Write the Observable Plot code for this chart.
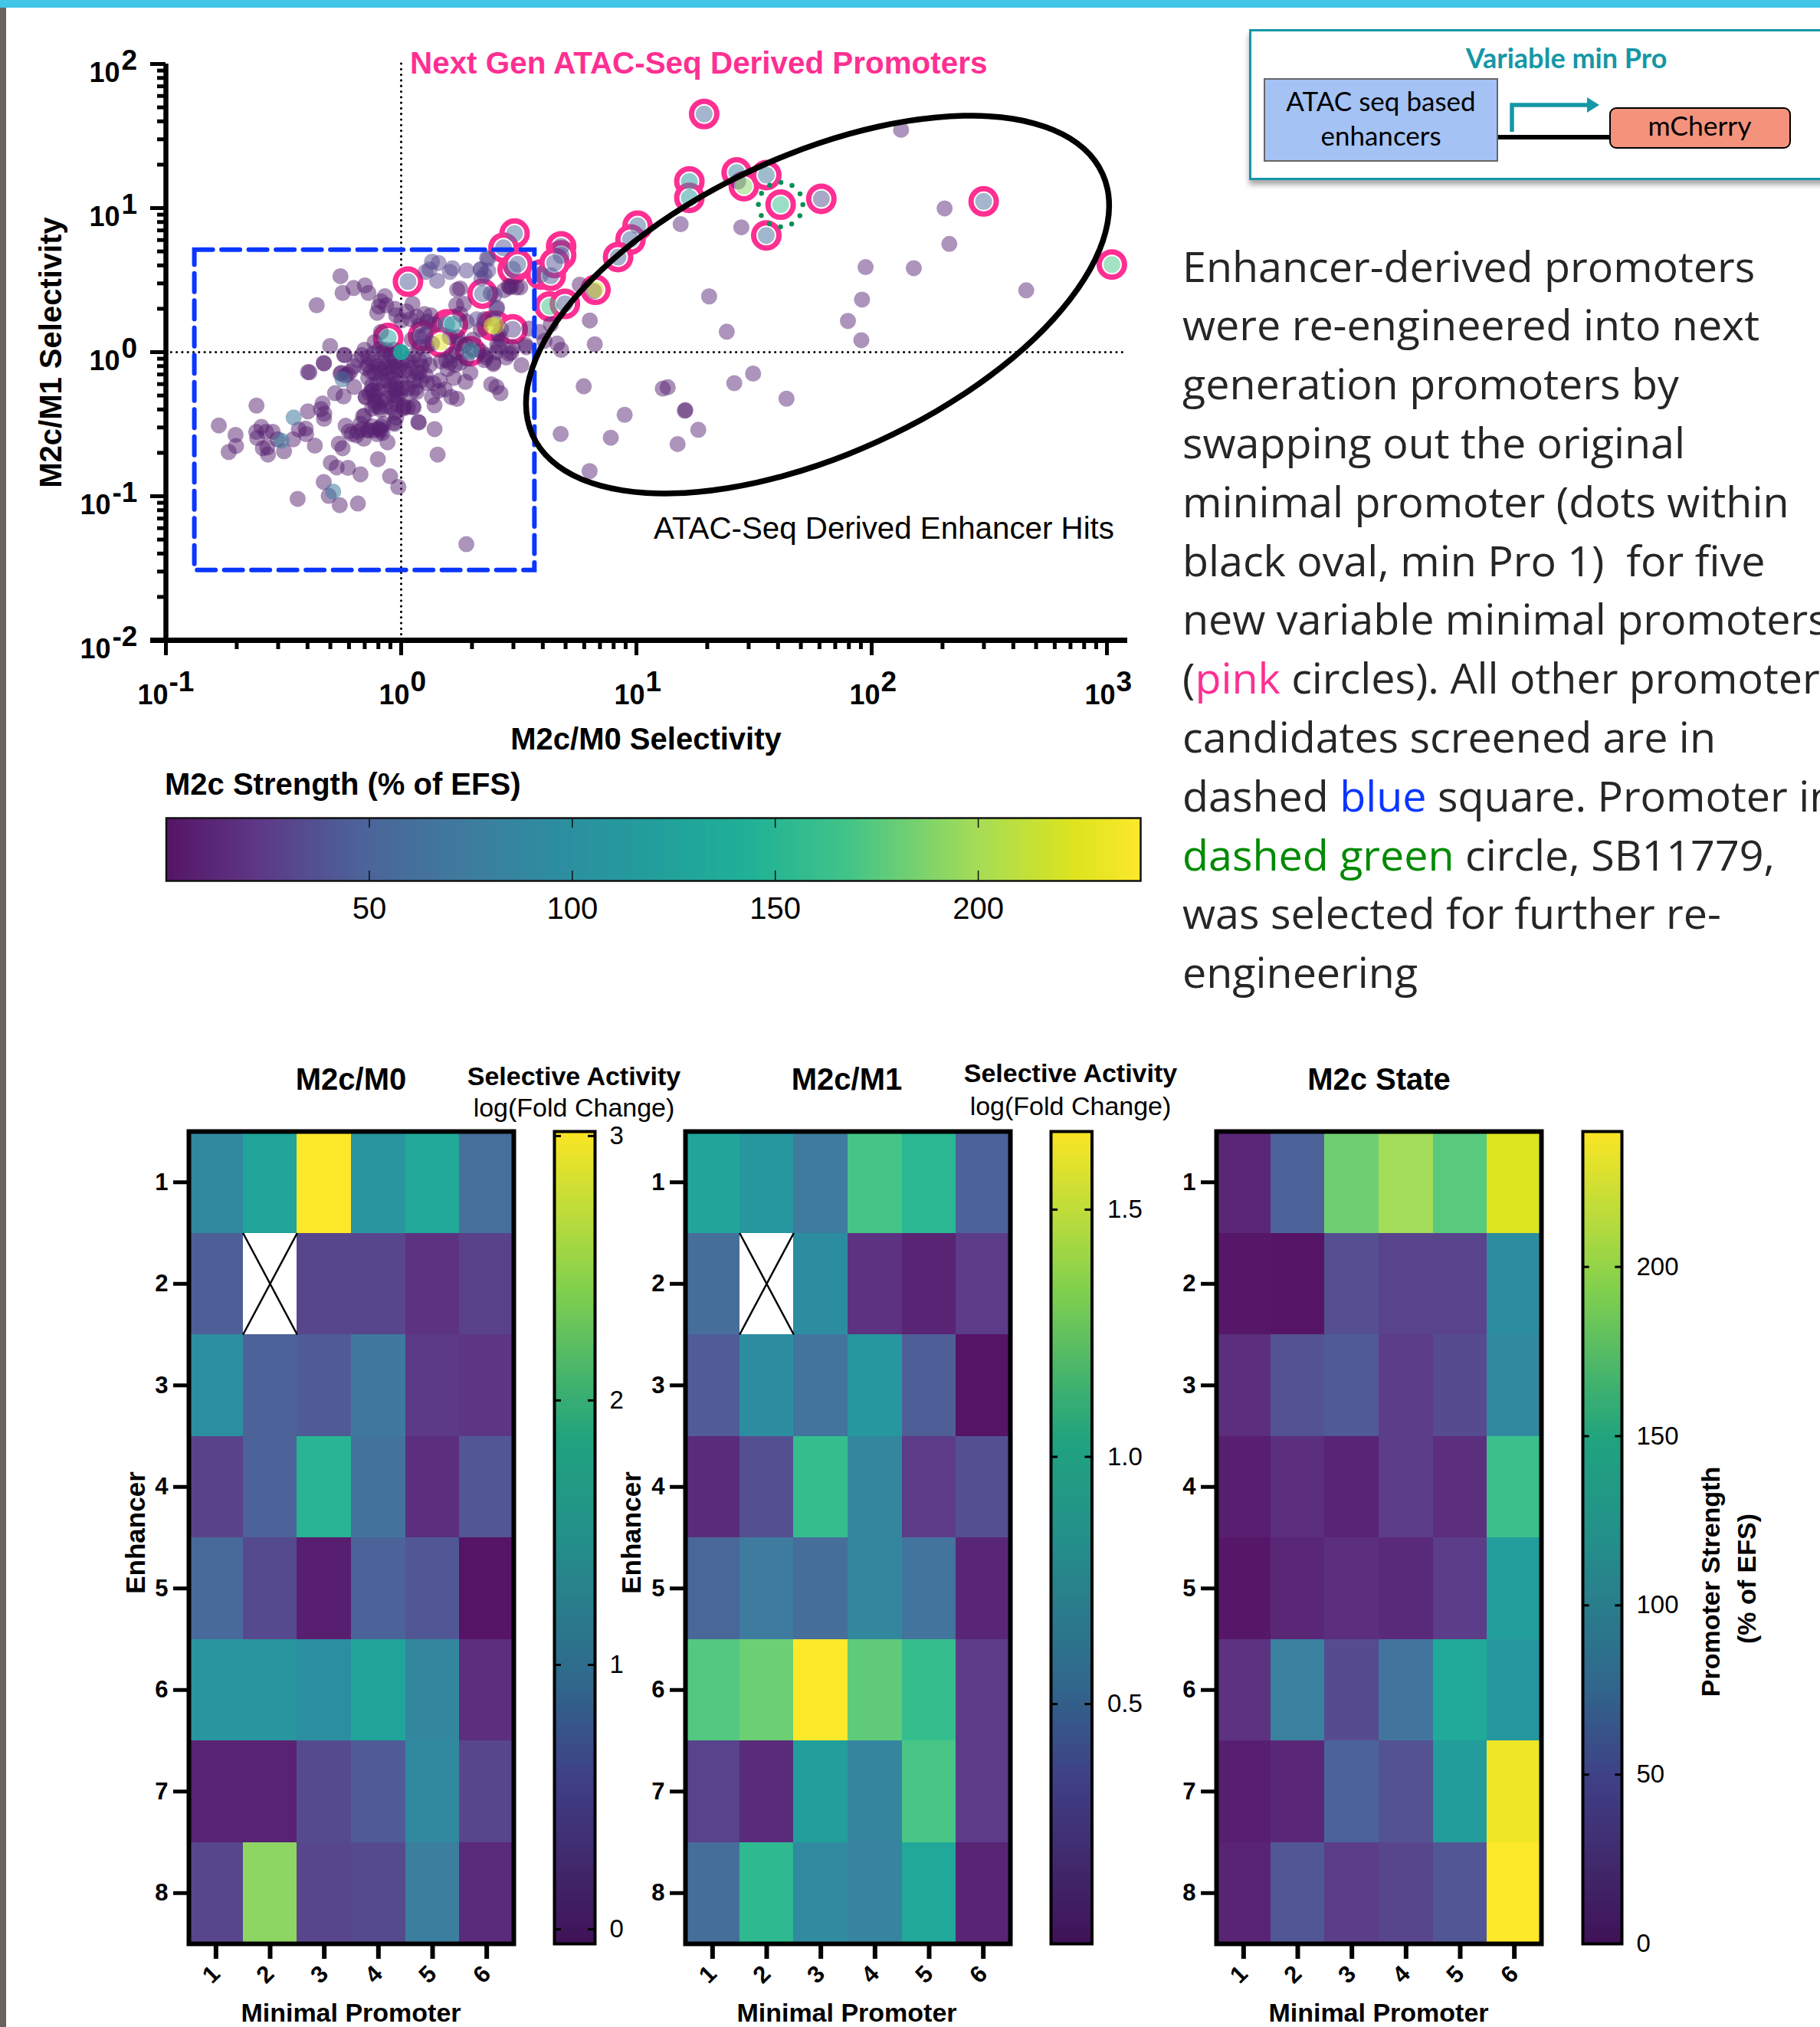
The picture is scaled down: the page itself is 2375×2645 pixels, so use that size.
<!DOCTYPE html>
<html><head><meta charset="utf-8">
<script src="https://cdn.jsdelivr.net/npm/d3@7"></script>
<script src="https://cdn.jsdelivr.net/npm/@observablehq/plot@0.6"></script>
<style>
html,body{margin:0;padding:0;background:#fff}
#page{position:relative;width:2375px;height:2645px;overflow:hidden;background:#fff}
#page>div.p{position:absolute}
.p svg{display:block;background:transparent;overflow:visible}
.box{position:absolute;box-sizing:border-box}
</style></head><body><div id="page"></div>
<script>
// ---------- data: log10(fold change) pairs ----------
const weakHits = [[-.775,-.509],[-.704,-.574],[-.702,-.651],[-.733,-.693],[-.615,-.371],[-.594,-.518],[-.616,-.553],[-.574,-.553],[-.546,-.553],[-.612,-.596],[-.526,-.605],[-.588,-.667],[-.569,-.661],[-.566,-.711],[-.498,-.688],[-.459,-.605],[-.435,-.537],[-.406,-.530],[-.404,-.569],[-.396,-.411],[-.367,-.649],[-.341,-.395],[-.334,-.356],[-.327,-.427],[-.328,-.463],[-.396,-.138],[-.328,-.078],[-.242,-.02],[-.281,-.285],[-.245,-.307],[-.265,-.635],[-.249,-.667],[-.236,-.511],[-.222,-.551],[-.210,-.569],[-.173,-.498],[-.156,-.441],[-.190,-.578],[-.159,-.601],[-.140,-.542],[-.102,-.569],[-.086,-.542],[-.080,-.560],[-.058,-.626],[-.028,-.498],[-.021,-.454],[.012,-.383],[.05,-.379],[.073,-.484],[-.099,-.743],[-.299,-.768],[-.274,-.800],[-.226,-.803],[-.173,-.848],[-.329,-.901],[-.308,-.998],[-.261,-1.062],[-.184,-1.051],[-.440,-1.018],[-.047,-.862],[-.012,-.936],[-.254,-.144],[-.227,-.153],[-.200,-.241],[-.151,-.312],[-.124,-.268],[-.108,-.339],[-.092,-.383],[-.064,-.321],[-.043,-.383],[-.021,-.303],
[-.258,.527],[-.249,.411],[-.202,.445],[-.154,.463],[-.139,.411],[-.359,.326],[-.302,.043],[-.241,-.020],[-.329,-.076],[-.390,-.140],[-.258,-.149],[-.238,-.161],[-.069,.388],[-.086,.353],[-.095,.317],[-.102,.273],[-.064,.326],[-.026,.300],[-.021,.255],[.048,.335],[.023,.282],[.099,.264],[.066,.246],[.039,.229],[.126,.255],[.001,.220],[.077,.184],[.110,.211],[.142,.193],[-.086,.140],[-.113,.069],[-.156,.016],[-.167,-.020],[-.183,-.055],[-.2,-.099],[-.216,-.135],[-.140,-.090],[-.129,-.135],[-.113,-.144],[-.091,-.117],[-.075,-.073],[-.053,-.055],[-.026,-.064],[.001,-.073],[.028,-.064],[.055,-.020],[-.042,-.020],[-.075,-.002],[-.021,-.126],[-.053,-.144],[-.037,-.179],[-.021,-.215],[.001,-.197],[.034,-.161],[.055,-.197],[.077,-.144],[.104,-.161],[.088,-.099],[.121,-.090],[.061,-.25],[.066,-.277],[.137,-.215],[.164,-.197],[.159,-.268],[.131,-.312],[.142,-.369],[.186,-.259],[.213,-.312],[.237,-.324],[-.140,-.179],[-.124,-.232],[-.135,-.285],[-.151,-.312],[-.097,-.268],[-.021,-.259],[-.015,-.312],[-.107,-.374],[-.124,-.392],[-.086,-.401],[-.064,-.374],[-.026,-.418],[.012,-.374],[.028,-.383],[.053,-.383],[.075,-.489],[.142,-.534],[-.031,-.489],[-.162,-.445],[-.140,-.543],[-.091,-.534],[-.113,-.543],[.155,-.711],
[.207,.105],[.240,.105],[.251,.060],[.235,-.002],[.213,-.020],[.191,-.055],[.169,-.064],[.207,-.073],[.229,-.090],[.251,-.073],[.278,-.046],[.197,-.117],[.224,-.179],[.273,-.206],[.294,-.144],[.273,.051],[.305,.087],[.338,.158],[.278,.211],[.234,.326],[.238,.433],[.251,.442],[.267,.335],[.251,.264],[.392,.229],[.354,.229],[.425,.158],[.414,.122],[.403,-.002],[.359,-.020],[.392,-.073],[.446,-.037],[.468,-.002],[.511,-.09],[.533,.034],[.457,.459],[.468,.459],[.506,.450],[.383,-.224],[.405,-.241],[.422,-.285],[.305,.016],[.338,.007],[.354,-.055],[.425,.087],[.414,.034],
[.819,.424],[.759,.468],[.802,.220],[.823,.055],[.663,.060],[.680,.016],[.636,.193],[.544,.163],[.587,.140],[.609,.078],[.528,.051],[.474,.034],[.459,-.011],[.408,.051],[.392,-.082],[.360,-.037],[.381,.406],[.462,.450],[.490,.450],[.408,.309],[.438,.43],
[-.118,-.073],[-.102,-.099],[-.151,-.108],[-.086,-.144],[-.069,-.108],[-.042,-.099],[-.026,-.099],[-.01,-.117],[.017,-.126],[.045,-.108],[-.059,-.197],[-.042,-.232],[-.026,-.259],[.001,-.25],[.028,-.25],[.045,-.277],[-.004,-.285],[-.032,-.294],[-.053,-.268],[-.075,-.197],[-.102,-.215],[-.118,-.268],[-.113,-.303],[-.086,-.339],[-.113,-.356],[-.097,-.534],[-.086,-.516],[-.075,-.498],[-.124,-.516],[-.167,-.534],[-.183,-.551],[-.021,-.356],[.007,-.392],[.034,-.055],[.077,-.055],[.099,-.055],[.066,-.144],[.083,-.197],[.11,-.215],[-.064,.016],[-.031,.016],[-.091,.025],[-.118,-.011],[-.140,-.037],[.045,.087],[.077,.105],[.104,.122],[.131,.060],[.11,.043],[.077,.034],
[1.432,1.185],[.776,-.237],[1.112,-.253],[1.133,-.244],[1.208,-.402],[1.206,-.407]];
const weakStrength = 8;
const paleHits = [[2.125,1.543],[1.188,.888],[1.446,.866],[2.310,.998],[2.330,.751],[1.974,.590],[2.179,.583],[2.657,.429],[1.959,.365],[1.899,.217],[1.956,.083],[1.309,.387],[1.384,.142],[1.416,-.215],[1.496,-.149],[1.638,-.323],[.950,-.435],[.678,-.568],[.891,-.594],[1.263,-.539],[1.175,-.638],[.801,-.826],[.277,-1.333]];
const paleStrength = 14;
const lavenderHits = [[.131,.628],[.159,.619],[.121,.574],[.104,.557],[.153,.495],[.207,.557],[.218,.583],[.278,.566],[.338,.574],[.370,.566],[.341,.513],[.369,.645],[.321,.229],[.397,.397],[.405,.303],[.365,.654],[.338,.574],[.354,.539]];
const lavenderStrength = 32;
// [log M2c/M0, log M2c/M1, strength]
const colouredHits = [[0,0,125],[-.509,-.614,75],[-.457,-.454,70],[-.289,-.968,75],[-.249,-.188,65]];
const nextGenHits = [[.029,.489,45],[-.055,.099,122],[.093,.113,25],[.194,.193,100],[.220,.193,105],[.167,.069,225],[.294,.007,100],[.346,.406,48],[.386,.184,238],[.403,.184,212],[.474,.158,28],[.482,.823,60],[.435,.725,40],[.474,.574,45],[.495,.610,45],[.593,.539,50],[.636,.530,40],[.680,.734,30],[.680,.672,40],[.652,.619,40],[.631,.317,165],[.696,.335,40],[.826,.433,218],[1.288,1.653,58],[1.225,1.185,112],[1.225,1.071,112],[1.426,1.247,85],[1.457,1.152,190],[1.552,1.229,70],[1.613,1.024,160],[1.786,1.064,38],[1.552,.810,62],[2.476,1.046,58],[3.021,.608,170],[1.005,.877,58],[.975,.782,48],[.922,.660,48]];
const selectedHit = [[1.613,1.024]]; // SB11779
// hand-drawn oval annotation in log10 units: centre, half-extents, tilt
const oval = {cx:1.77,cy:.33,wx:1.2394,wy:1.311,tilt:.524};
const ovalOutline = d3.range(0,360,6).map(a=>{const t=a*Math.PI/180;
  return [oval.cx+oval.wx*Math.cos(t), oval.cy+oval.wy*(oval.tilt*Math.cos(t)+Math.sqrt(1-oval.tilt**2)*Math.sin(t))];});
const blueBox = [{x1:-.8775,x2:.568,y1:-1.515,y2:.7085}];
const xExponents = [-1,0,1,2,3];
const yExponents = [-2,-1,0,1,2];
const strengthTicks = [50,100,150,200];

const minimalPromoters = [1,2,3,4,5,6];
const enhancers = [1,2,3,4,5,6,7,8];
const m2cM0 = [
 [1.14,1.59,3.0,1.35,1.65,.75],
 [.57,null,.39,.39,.24,.36],
 [1.23,.6,.54,.9,.3,.27],
 [.36,.6,1.86,.81,.21,.51],
 [.69,.42,.09,.6,.51,0],
 [1.35,1.35,1.23,1.59,1.11,.21],
 [.12,.12,.42,.54,1.14,.39],
 [.39,2.4,.39,.42,.96,.18]];
const m2cM1 = [
 [.89,.76,.5,1.16,1.04,.33],
 [.41,null,.66,.13,.07,.17],
 [.3,.66,.46,.76,.31,0],
 [.1,.25,1.09,.61,.17,.25],
 [.36,.5,.41,.61,.45,.08],
 [1.19,1.25,1.65,1.22,1.09,.17],
 [.2,.1,.83,.59,1.17,.17],
 [.41,1.06,.63,.58,.91,.07]];
const m2cState = [
 [12,48,182,199,175,223],
 [2,0,36,29,29,96],
 [17,38,43,26,34,91],
 [7,17,10,26,17,163],
 [2,12,17,14,26,120],
 [19,79,34,67,134,110],
 [7,12,48,38,118,233],
 [10,41,26,31,41,240]];
const noteLines = [
 [["Enhancer-derived promoters"]],
 [["were re-engineered into next"]],
 [["generation promoters by"]],
 [["swapping out the original"]],
 [["minimal promoter (dots within"]],
 [["black oval, min Pro 1)  for five"]],
 [["new variable minimal promoters"]],
 [["("],["pink","#fe2f92"],[" circles). All other promoter"]],
 [["candidates screened are in"]],
 [["dashed "],["blue","#0a36ff"],[" square. Promoter in"]],
 [["dashed green","#008a00"],[" circle, SB11779,"]],
 [["was selected for further re-"]],
 [["engineering"]]];

// ---------- colours ----------
const cellRampScale = d3.scaleLinear()
 .domain([0,.1,.2,.3,.4,.5,.6,.7,.83,.93,1])
 .range(["#561466","#5d3a88","#4c6399","#3f7a9e","#2d8da0","#229e9c","#20b196","#42c488","#a3dc58","#dce41e","#fde82a"]);
const cellRamp = t => cellRampScale(t);
const barRampScale = d3.scaleLinear()
 .domain([0,.1,.2,.33,.5,.62,.7,.8,.9,1])
 .range(["#401257","#40296c","#3f3f86","#2f6a8c","#23908a","#20a37f","#46b46c","#7ecf4f","#bddc3a","#fbe523"]);
const barRamp = t => barRampScale(t);

const page = document.getElementById("page");
const FONT = "'Liberation Sans',Arial,sans-serif";
function place(node,left,top){const d=document.createElement("div");d.className="p";d.style.left=left+"px";d.style.top=top+"px";d.appendChild(node);page.appendChild(d);}
function box(css){const d=document.createElement("div");d.className="box";d.style.cssText+=css;page.appendChild(d);return d;}

// frame chrome
box("left:0;top:0;width:2375px;height:10px;background:#42c5e6");
box("left:0;top:10px;width:8px;height:2635px;background:#666361");

// ---------- scatter ----------
const pow = v => 10**v;
const dotsOf = (rows,s,opts={}) => Plot.dot(rows,{x:d=>pow(d[0]),y:d=>pow(d[1]),r:10.5,fill:()=>s,fillOpacity:.5,...opts});
const minor = (list,lo) => list.flatMap(e=>[2,3,4,5,6,7,8,9].map(k=>k*10**e)).filter(v=>v>=lo);
const xLabelMarks = xExponents.flatMap(e=>{
  const dx = e<0 ? 3 : 11;
  return [
   Plot.text([e],{x:pow,y:()=>.01,text:()=>"10",textAnchor:"end",lineAnchor:"bottom",dx,dy:83,fontSize:36,fontWeight:700,fontFamily:FONT}),
   Plot.text([e],{x:pow,y:()=>.01,text:d=>String(d),textAnchor:"start",lineAnchor:"bottom",dx:dx+1,dy:66,fontSize:37,fontWeight:700,fontFamily:FONT})];
});
const yLabelMarks = yExponents.flatMap(e=>{
  const right = e<0 ? 144 : 156;
  return [
   Plot.text([e],{x:()=>.1,y:pow,text:()=>"10",textAnchor:"end",lineAnchor:"bottom",dx:right-216,dy:23,fontSize:36,fontWeight:700,fontFamily:FONT}),
   Plot.text([e],{x:()=>.1,y:pow,text:d=>String(d),textAnchor:"start",lineAnchor:"bottom",dx:right-216+2,dy:7,fontSize:37,fontWeight:700,fontFamily:FONT})];
});
place(Plot.plot({
  width:1500,height:1000,marginLeft:216,marginRight:29,marginTop:83,marginBottom:165,
  style:{background:"transparent",fontFamily:FONT},
  x:{type:"log",domain:[.1,10**3.088],axis:null},
  y:{type:"log",domain:[.01,100],axis:null},
  color:{type:"linear",domain:[0,240],interpolate:cellRamp},
  marks:[
   Plot.ruleX([1],{stroke:"#000",strokeWidth:3.2,strokeDasharray:"0 7.3",strokeLinecap:"round"}),
   Plot.ruleY([1],{stroke:"#000",strokeWidth:3.2,strokeDasharray:"0 7.3",strokeLinecap:"round"}),
   Plot.dot(nextGenHits,{x:d=>pow(d[0]),y:d=>pow(d[1]),r:16.5,fill:"#fff",stroke:"#fe2f92",strokeWidth:7}),
   dotsOf(weakHits,weakStrength),
   dotsOf(paleHits,paleStrength),
   dotsOf(lavenderHits,lavenderStrength),
   Plot.dot(colouredHits,{x:d=>pow(d[0]),y:d=>pow(d[1]),r:10.5,fill:d=>d[2],fillOpacity:.55}),
   Plot.dot(colouredHits.slice(0,1),{x:d=>pow(d[0]),y:d=>pow(d[1]),r:10.5,fill:d=>d[2],fillOpacity:.9}),
   Plot.dot(nextGenHits,{x:d=>pow(d[0]),y:d=>pow(d[1]),r:11,fill:d=>d[2],fillOpacity:.5}),
   Plot.dot(selectedHit,{x:d=>pow(d[0]),y:d=>pow(d[1]),r:29,fill:"none",stroke:"#0a8f56",strokeWidth:6.5,strokeDasharray:"0 15.2",strokeLinecap:"round"}),
   Plot.rect(blueBox,{x1:d=>pow(d.x1),x2:d=>pow(d.x2),y1:d=>pow(d.y1),y2:d=>pow(d.y2),fill:"none",stroke:"#0a36ff",strokeWidth:6,strokeDasharray:"24 11.5",strokeLinecap:"round"}),
   Plot.line(ovalOutline,{x:d=>pow(d[0]),y:d=>pow(d[1]),curve:"catmull-rom-closed",stroke:"#000",strokeWidth:7.5}),
   Plot.axisX({ticks:xExponents.map(pow),anchor:"bottom",tickSize:20,strokeWidth:5,tickPadding:0,tickFormat:()=>"",label:null,stroke:"#000"}),
   Plot.axisX({ticks:minor([-1,0,1,2],.1),anchor:"bottom",tickSize:12,strokeWidth:5,tickFormat:()=>"",label:null,stroke:"#000"}),
   Plot.axisY({ticks:yExponents.map(pow),anchor:"left",tickSize:20,strokeWidth:5,tickFormat:()=>"",label:null,stroke:"#000"}),
   Plot.axisY({ticks:minor([-2,-1,0,1],.01),anchor:"left",tickSize:11,strokeWidth:5,tickFormat:()=>"",label:null,stroke:"#000"}),
   Plot.ruleY([.01],{stroke:"#000",strokeWidth:7,x1:()=>.1*10**(-20/307),x2:()=>10**3.088,clip:false}),
   Plot.ruleX([.1],{stroke:"#000",strokeWidth:6.5}),
   ...xLabelMarks,...yLabelMarks
  ]
}),0,0);

// strength bar beneath the scatter
const strengthSteps = d3.range(240);
place(Plot.plot({
  width:1320,height:170,marginLeft:16.5,marginRight:32,marginTop:17,marginBottom:71,
  style:{background:"transparent",fontFamily:FONT},
  x:{domain:[0,240],axis:null},y:{domain:[0,1],axis:null},
  color:{type:"linear",domain:[0,240],interpolate:cellRamp},
  marks:[
   Plot.rect(strengthSteps,{x1:d=>d,x2:d=>d+1,y1:()=>0,y2:()=>1,fill:d=>d+.5,shapeRendering:"crispEdges"}),
   Plot.ruleX(strengthTicks,{y1:()=>1,y2:()=>.84,stroke:"#111",strokeWidth:1.5}),
   Plot.ruleX(strengthTicks,{y1:()=>0,y2:()=>.16,stroke:"#111",strokeWidth:1.5}),
   Plot.frame({stroke:"#111",strokeWidth:2.5}),
   Plot.axisX({ticks:strengthTicks,anchor:"bottom",tickSize:0,tickPadding:21,fontSize:40,label:null,tickFormat:d=>String(d),stroke:"none"})
  ]
}),200,1050);

// ---------- heat maps ----------
function heat(values,lo,hi){
  const width = 560;
  const rows = values.flatMap((row,r)=>row.map((v,c)=>({r:enhancers[r],c:minimalPromoters[c],v})));
  const gap = rows.filter(d=>d.v===null);
  const cross = gap.flatMap(d=>[[d.c-.5,d.r-.5,d.c+.5,d.r+.5],[d.c-.5,d.r+.5,d.c+.5,d.r-.5]]);
  return Plot.plot({
   width,height:1205,marginLeft:86,marginRight:50,marginTop:36,marginBottom:109,
   style:{background:"transparent",fontFamily:FONT},
   x:{domain:[.5,6.5],axis:null},y:{domain:[8.5,.5],axis:null},
   color:{type:"linear",domain:[lo,hi],interpolate:cellRamp},
   marks:[
    Plot.rect(rows.filter(d=>d.v!==null),{x1:d=>d.c-.5,x2:d=>d.c+.5,y1:d=>d.r-.5,y2:d=>d.r+.5,fill:"v",shapeRendering:"crispEdges"}),
    Plot.link(cross,{x1:d=>d[0],y1:d=>d[1],x2:d=>d[2],y2:d=>d[3],stroke:"#000",strokeWidth:2.5}),
    Plot.frame({stroke:"#000",strokeWidth:6}),
    Plot.axisY({ticks:enhancers,anchor:"left",tickSize:20,tickPadding:7,strokeWidth:5,fontSize:31,fontWeight:700,label:null,stroke:"#000",tickFormat:d=>String(d)}),
    Plot.axisX({ticks:minimalPromoters,anchor:"bottom",tickSize:20,tickPadding:14,strokeWidth:6,fontSize:31,fontWeight:700,tickRotate:-45,label:null,stroke:"#000",tickFormat:d=>String(d)})
   ]
  });
}
place(heat(m2cM0,0,3),160,1440);
place(heat(m2cM1,0,1.65),807.6,1440);
place(heat(m2cState,0,240),1500.7,1440);

// colour bars
function colourBar(lo,hi,ticks,left,right,fmt,labelGap){
  const n=240, step=(hi-lo)/n;
  const steps=d3.range(n).map(i=>lo+i*step);
  const w=right-left;
  return Plot.plot({
   width:w+140,height:1205,marginLeft:10,marginRight:130,marginTop:36,marginBottom:109,
   style:{background:"transparent",fontFamily:FONT},
   x:{domain:[0,1],axis:null},y:{domain:[lo,hi],axis:null},
   color:{type:"linear",domain:[lo,hi],interpolate:barRamp},
   marks:[
    Plot.rect(steps,{x1:()=>0,x2:()=>1,y1:d=>d,y2:d=>d+step,fill:d=>d+step/2,shapeRendering:"crispEdges"}),
    Plot.ruleY(ticks,{x1:()=>0,x2:()=>.17,stroke:"#000",strokeWidth:3}),
    Plot.ruleY(ticks,{x1:()=>.83,x2:()=>1,stroke:"#000",strokeWidth:3}),
    Plot.frame({stroke:"#000",strokeWidth:4}),
    Plot.axisY({ticks,anchor:"right",tickSize:0,tickPadding:labelGap,fontSize:33,label:null,tickFormat:fmt,stroke:"none"})
   ]
  });
}
place(colourBar(-.055,3.017,[0,1,2,3],723,776,d3.format("d"),19),713,1440);
place(colourBar(.015,1.658,[.5,1,1.5],1371,1424.5,d3.format(".1f"),20),1361,1440);
place(colourBar(0,240,[0,50,100,150,200],2065,2116,d3.format("d"),19),2055,1440);

// ---------- construct diagram ----------
box("left:1630px;top:38px;width:800px;height:197px;border:3px solid #1597a6;background:#fff;box-shadow:0 6px 7px rgba(0,0,0,.35)");
box("left:1649px;top:102px;width:306px;height:109px;background:#a4c2f4;border:2px solid #666");
box("left:1955px;top:176px;width:146px;height:6px;background:#000");
box("left:2100px;top:140px;width:237px;height:54px;background:#f4927c;border:2.5px solid #000;border-radius:9px");

// ---------- all other text as an overlay ----------
const overlay = d3.select(page).append("svg").attr("width",2375).attr("height",2645)
  .style("position","absolute").style("left",0).style("top",0).style("pointer-events","none");
function label(t,x,y,o={}){
  const e = overlay.append("text").text(t).attr("x",x).attr("y",y)
   .attr("font-family",o.family||FONT).attr("font-size",o.size||30).attr("font-weight",o.weight||400)
   .attr("fill",o.fill||"#000").attr("text-anchor",o.anchor||"middle").style("white-space","pre");
  if(o.rotate) e.attr("transform",`rotate(${o.rotate} ${x} ${y})`);
  return e;
}
// arrow of the construct
overlay.append("path").attr("d","M1973 172V137H2076").attr("fill","none").attr("stroke","#1597a6").attr("stroke-width",5.5);
overlay.append("path").attr("d","M2071 127L2087 137L2071 147Z").attr("fill","#1597a6");
const CAL = "Lato,'Open Sans',sans-serif";
label("Variable min Pro",2044,89,{family:CAL,size:36,weight:700,fill:"#1597a6"});
label("ATAC seq based",1802,145,{family:CAL,size:35});
label("enhancers",1802,190,{family:CAL,size:35});
label("mCherry",2218,177,{family:CAL,size:35.5});

label("Next Gen ATAC-Seq Derived Promoters",535,96,{anchor:"start",size:40.4,weight:700,fill:"#fe2f92"});
label("ATAC-Seq Derived Enhancer Hits",853,703,{anchor:"start",size:40.3});
label("M2c/M1 Selectivity",80,460,{size:40,weight:700,rotate:-90});
label("M2c/M0 Selectivity",843,978,{size:40,weight:700});
label("M2c Strength (% of EFS)",215,1037,{anchor:"start",size:40,weight:700});

[[458,"M2c/M0"],[1105,"M2c/M1"],[1799.5,"M2c State"]].forEach(([x,t])=>label(t,x,1422,{size:40,weight:700}));
[[749,1416,1457],[1397,1412,1455]].forEach(([x,a,b])=>{
  label("Selective Activity",x,a,{size:34,weight:700});
  label("log(Fold Change)",x,b,{size:34});
});
[189,836].forEach(x=>label("Enhancer",x,2000,{size:35,weight:700,rotate:-90}));
[458,1105,1799].forEach(x=>label("Minimal Promoter",x,2637.5,{size:34,weight:700}));
label("Promoter Strength",2244,2064,{size:34,weight:700,rotate:-90});
label("(% of EFS)",2291,2060,{size:34,weight:700,rotate:-90});

noteLines.forEach((line,i)=>{
  const e = overlay.append("text").attr("x",1543).attr("y",367.5+i*76.8)
    .attr("font-family","'Open Sans',sans-serif").attr("font-size",55.6).attr("fill","#262626").style("white-space","pre");
  line.forEach(([t,c])=>{const s=e.append("tspan").text(t); if(c) s.attr("fill",c);});
});
</script></body></html>
